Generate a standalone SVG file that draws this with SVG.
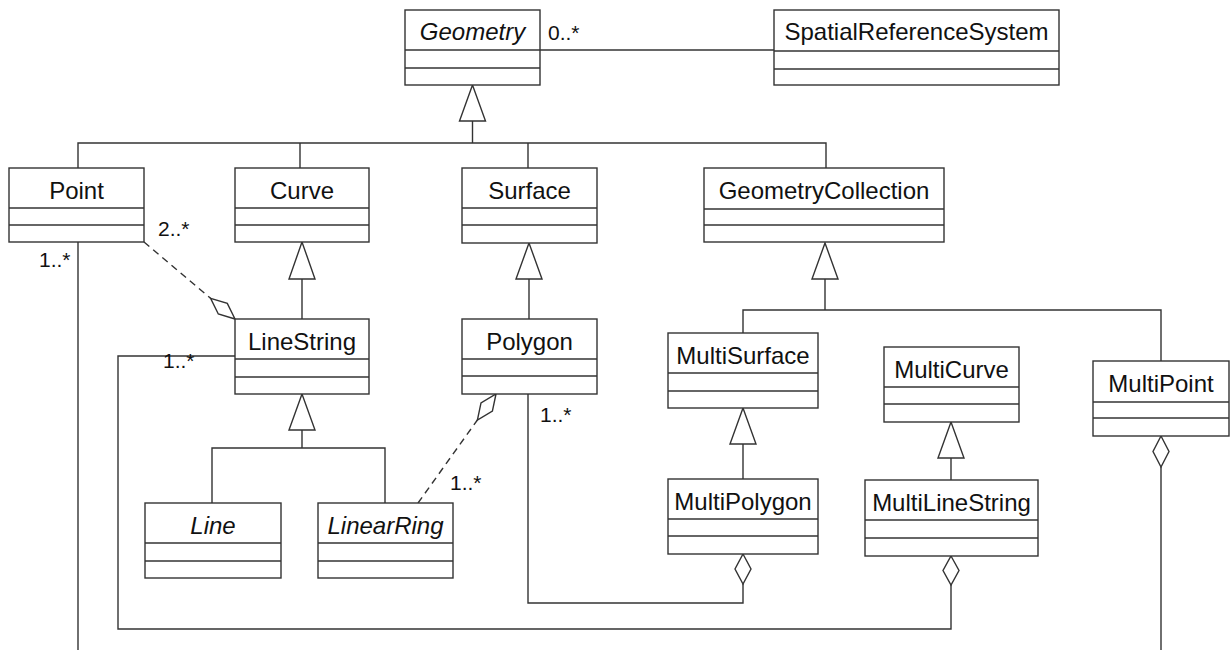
<svg xmlns="http://www.w3.org/2000/svg" width="1232" height="650" viewBox="0 0 1232 650">
<style>
.box{fill:#fff;stroke:#333;stroke-width:1.4}
.div{stroke:#333;stroke-width:1.4}
.name{font-family:"Liberation Sans",Arial,sans-serif;font-size:24px;fill:#111;text-anchor:middle}
.it{font-style:italic}
.lbl{font-family:"Liberation Sans",Arial,sans-serif;font-size:21px;fill:#111}
.ln{fill:none;stroke:#333;stroke-width:1.4}
.dash{fill:none;stroke:#333;stroke-width:1.4;stroke-dasharray:7 5}
.tri{fill:#fff;stroke:#333;stroke-width:1.4}
.dia{fill:#fff;stroke:#333;stroke-width:1.4}
</style>
<rect width="1232" height="650" fill="#fff"/>
<g id="connectors">
<line class="ln" x1="540" y1="50" x2="774" y2="50"/>
<polyline class="ln" points="472.5,121 472.5,143"/>
<polyline class="ln" points="78,168 78,143 826,143 826,168"/>
<line class="ln" x1="300" y1="143" x2="300" y2="168"/>
<line class="ln" x1="528" y1="143" x2="528" y2="168"/>
<polygon class="tri" points="472.5,85 459.5,121 485.5,121"/>
<line class="ln" x1="302" y1="279" x2="302" y2="319"/>
<polygon class="tri" points="302,242 289,279 315,279"/>
<line class="ln" x1="529" y1="279" x2="529" y2="319"/>
<polygon class="tri" points="529,243 516,279 542,279"/>
<polyline class="ln" points="302,430 302,448"/>
<polyline class="ln" points="212,503 212,448 385,448 385,503"/>
<polygon class="tri" points="302,394 289,430 315,430"/>
<polyline class="ln" points="825,279 825,310"/>
<polyline class="ln" points="743,333 743,310 1161,310 1161,361"/>
<polygon class="tri" points="825,243 812,279 838,279"/>
<line class="ln" x1="743" y1="444" x2="743" y2="479"/>
<polygon class="tri" points="743,408 730,444 756,444"/>
<line class="ln" x1="951" y1="458" x2="951" y2="480"/>
<polygon class="tri" points="951,422 938,458 964,458"/>
<line class="dash" x1="144" y1="242" x2="210.6" y2="298.3"/>
<polygon class="dia" points="235,319 227.3,303.4 210.6,298.3 218.3,314"/>
<line class="dash" x1="418" y1="503" x2="477.4" y2="420"/>
<polygon class="dia" points="496,394 492.4,411.1 477.4,420 481,402.9"/>
<line class="ln" x1="78" y1="242" x2="78" y2="650"/>
<polyline class="ln" points="235,356 118,356 118,629 951,629 951,585"/>
<polygon class="dia" points="951,556 959,570.5 951,585 943,570.5"/>
<polyline class="ln" points="528,394 528,603 743,603 743,584"/>
<polygon class="dia" points="743,554 751,569 743,584 735,569"/>
<line class="ln" x1="1161" y1="467" x2="1161" y2="650"/>
<polygon class="dia" points="1161,436 1169,451.5 1161,467 1153,451.5"/>
</g>
<g id="labels">
<text class="lbl" x="548" y="40">0..*</text>
<text class="lbl" x="158" y="236">2..*</text>
<text class="lbl" x="39" y="267">1..*</text>
<text class="lbl" x="163" y="368">1..*</text>
<text class="lbl" x="450" y="490">1..*</text>
<text class="lbl" x="540" y="422">1..*</text>
</g>
<g id="Geometry">
<rect class="box" x="405" y="10" width="135" height="75"/>
<line class="div" x1="405" y1="50" x2="540" y2="50"/><line class="div" x1="405" y1="68" x2="540" y2="68"/>
<text class="name it" x="472.5" y="40">Geometry</text>
</g>
<g id="SpatialReferenceSystem">
<rect class="box" x="774" y="10" width="285" height="75"/>
<line class="div" x1="774" y1="51" x2="1059" y2="51"/><line class="div" x1="774" y1="69" x2="1059" y2="69"/>
<text class="name" x="916.5" y="40">SpatialReferenceSystem</text>
</g>
<g id="Point">
<rect class="box" x="9" y="168" width="135" height="74"/>
<line class="div" x1="9" y1="208" x2="144" y2="208"/><line class="div" x1="9" y1="225" x2="144" y2="225"/>
<text class="name" x="76.5" y="199">Point</text>
</g>
<g id="Curve">
<rect class="box" x="235" y="168" width="134" height="74"/>
<line class="div" x1="235" y1="208" x2="369" y2="208"/><line class="div" x1="235" y1="225" x2="369" y2="225"/>
<text class="name" x="302" y="199">Curve</text>
</g>
<g id="Surface">
<rect class="box" x="462" y="168" width="135" height="75"/>
<line class="div" x1="462" y1="208" x2="597" y2="208"/><line class="div" x1="462" y1="225" x2="597" y2="225"/>
<text class="name" x="529.5" y="199">Surface</text>
</g>
<g id="GeometryCollection">
<rect class="box" x="704" y="168" width="240" height="74"/>
<line class="div" x1="704" y1="209" x2="944" y2="209"/><line class="div" x1="704" y1="225" x2="944" y2="225"/>
<text class="name" x="824" y="199">GeometryCollection</text>
</g>
<g id="LineString">
<rect class="box" x="235" y="319" width="134" height="75"/>
<line class="div" x1="235" y1="359" x2="369" y2="359"/><line class="div" x1="235" y1="377" x2="369" y2="377"/>
<text class="name" x="302" y="350">LineString</text>
</g>
<g id="Polygon">
<rect class="box" x="462" y="319" width="135" height="75"/>
<line class="div" x1="462" y1="359" x2="597" y2="359"/><line class="div" x1="462" y1="376" x2="597" y2="376"/>
<text class="name" x="529.5" y="350">Polygon</text>
</g>
<g id="Line">
<rect class="box" x="145" y="503" width="136" height="75"/>
<line class="div" x1="145" y1="543" x2="281" y2="543"/><line class="div" x1="145" y1="561" x2="281" y2="561"/>
<text class="name it" x="213" y="534">Line</text>
</g>
<g id="LinearRing">
<rect class="box" x="318" y="503" width="135" height="75"/>
<line class="div" x1="318" y1="543" x2="453" y2="543"/><line class="div" x1="318" y1="561" x2="453" y2="561"/>
<text class="name it" x="385.5" y="534">LinearRing</text>
</g>
<g id="MultiSurface">
<rect class="box" x="668" y="333" width="150" height="75"/>
<line class="div" x1="668" y1="373" x2="818" y2="373"/><line class="div" x1="668" y1="391" x2="818" y2="391"/>
<text class="name" x="743" y="364">MultiSurface</text>
</g>
<g id="MultiCurve">
<rect class="box" x="884" y="347" width="135" height="75"/>
<line class="div" x1="884" y1="387" x2="1019" y2="387"/><line class="div" x1="884" y1="404" x2="1019" y2="404"/>
<text class="name" x="951.5" y="378">MultiCurve</text>
</g>
<g id="MultiPoint">
<rect class="box" x="1093" y="361" width="136" height="75"/>
<line class="div" x1="1093" y1="402" x2="1229" y2="402"/><line class="div" x1="1093" y1="418" x2="1229" y2="418"/>
<text class="name" x="1161" y="392">MultiPoint</text>
</g>
<g id="MultiPolygon">
<rect class="box" x="668" y="479" width="150" height="75"/>
<line class="div" x1="668" y1="519" x2="818" y2="519"/><line class="div" x1="668" y1="536" x2="818" y2="536"/>
<text class="name" x="743" y="510">MultiPolygon</text>
</g>
<g id="MultiLineString">
<rect class="box" x="865" y="480" width="173" height="76"/>
<line class="div" x1="865" y1="520" x2="1038" y2="520"/><line class="div" x1="865" y1="538" x2="1038" y2="538"/>
<text class="name" x="951.5" y="511">MultiLineString</text>
</g>
</svg>
